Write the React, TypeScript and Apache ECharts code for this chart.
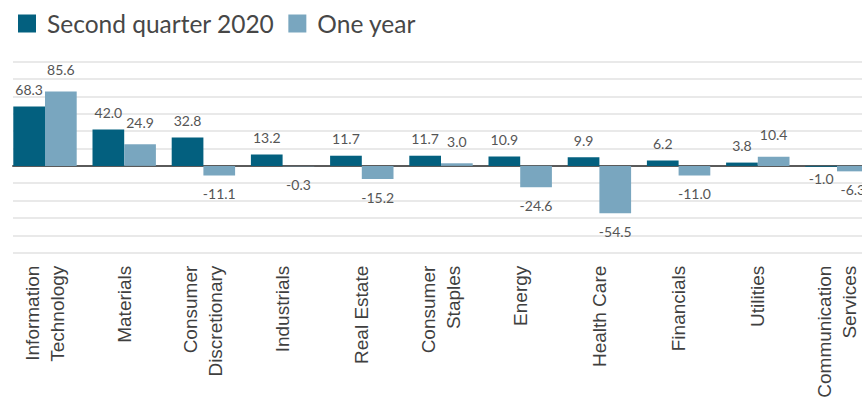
import React, { useEffect, useRef } from "react";
import * as echarts from "echarts";

const categories = [
  "Information\nTechnology",
  "Materials",
  "Consumer\nDiscretionary",
  "Industrials",
  "Real Estate",
  "Consumer\nStaples",
  "Energy",
  "Health Care",
  "Financials",
  "Utilities",
  "Communication\nServices",
];
const secondQuarter = [68.3, 42.0, 32.8, 13.2, 11.7, 11.7, 10.9, 9.9, 6.2, 3.8, -1.0];
const oneYear = [85.6, 24.9, -11.1, -0.3, -15.2, 3.0, -24.6, -54.5, -11.0, 10.4, -6.3];
const seriesNames = ["Second quarter 2020", "One year"];

const DARK = "#03607f";
const LIGHT = "#79a6bf";

function labelled(values: number[], upDist: number, downDist: number) {
  return values.map((v) => ({
    value: v,
    label: {
      position: v >= 0 ? "top" : "bottom",
      distance: v >= 0 ? upDist : downDist,
    },
  }));
}

export default function App() {
  const ref = useRef<HTMLDivElement>(null);
  useEffect(() => {
    document.body.style.overflow = "hidden";
    if (!ref.current) return;
    const chart = echarts.init(ref.current, null, { renderer: "svg" });
    const labelStyle = {
      show: true,
      formatter: (p: any) => Number(p.value).toFixed(1),
      fontFamily: "Lato",
      fontSize: 14,
      color: "#555",
    };
    chart.setOption({
      animation: false,
      backgroundColor: "#ffffff",
      legend: {
        left: 13,
        top: 6,
        itemWidth: 18,
        itemHeight: 18,
        itemGap: 14,
        icon: "rect",
        data: seriesNames,
        textStyle: {
          fontFamily: "Lato",
          fontSize: 24.5,
          color: "#474747",
          padding: [0, 0, 0, 6],
        },
      },
      grid: [
        { left: 13, top: 61.7, width: 880, height: 191, containLabel: false },
        { left: 5.4, top: 61.7, width: 871.2, height: 191, containLabel: false },
      ],
      xAxis: [
        {
          gridIndex: 0,
          type: "value",
          min: 0,
          max: 1,
          axisLabel: { show: false },
          axisTick: { show: false },
          splitLine: { show: false },
          axisLine: { show: true, onZero: true, lineStyle: { color: "#5a5a5a", width: 2 } },
        },
        {
          gridIndex: 1,
          type: "category",
          data: categories,
          axisLine: { show: false, onZero: false },
          axisTick: { show: false },
          splitLine: { show: false },
          axisLabel: {
            rotate: 90,
            interval: 0,
            margin: 13,
            fontFamily: "Liberation Sans",
            fontSize: 19,
            lineHeight: 25,
            color: "#3f3f3f",
          },
        },
      ],
      yAxis: [
        {
          gridIndex: 0,
          type: "value",
          min: -100,
          max: 120,
          interval: 20,
          axisLabel: { show: false },
          axisLine: { show: false },
          axisTick: { show: false },
          splitLine: { show: true, lineStyle: { color: "#e2e2e2", width: 1.6 } },
        },
        {
          gridIndex: 1,
          type: "value",
          min: -100,
          max: 120,
          interval: 20,
          axisLabel: { show: false },
          axisLine: { show: false },
          axisTick: { show: false },
          splitLine: { show: false },
        },
      ],
      series: [
        {
          name: seriesNames[0],
          type: "bar",
          xAxisIndex: 1,
          yAxisIndex: 1,
          barWidth: 31.7,
          barGap: "0%",
          itemStyle: { color: DARK },
          label: labelStyle,
          data: labelled(secondQuarter, 10, 5),
        },
        {
          name: seriesNames[1],
          type: "bar",
          xAxisIndex: 1,
          yAxisIndex: 1,
          barWidth: 31.7,
          barGap: "0%",
          itemStyle: { color: LIGHT },
          label: labelStyle,
          data: labelled(oneYear, 15, 11),
        },
      ],
    });
    return () => chart.dispose();
  }, []);
  return (
    <div
      ref={ref}
      style={{ position: "fixed", left: 0, top: 0, width: 900, height: 406, background: "#fff" }}
    />
  );
}
